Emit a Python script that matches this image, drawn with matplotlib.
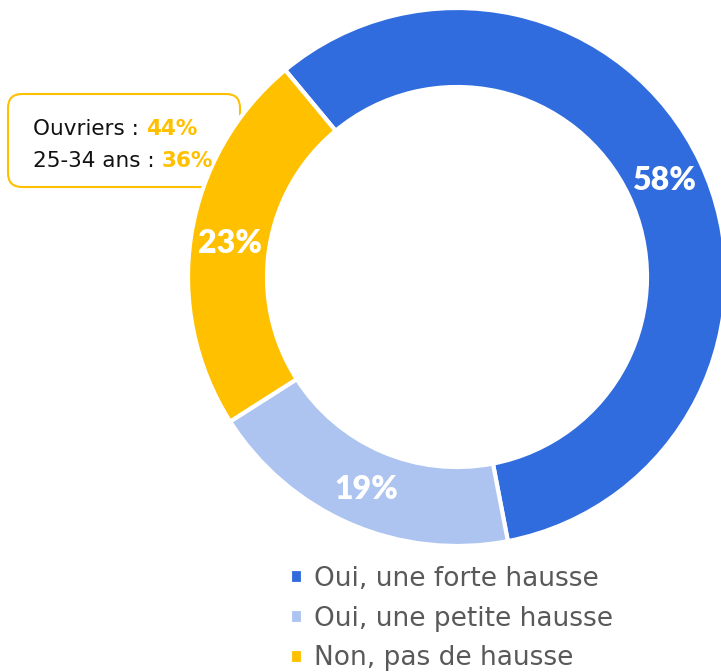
import numpy as np
import matplotlib.pyplot as plt
from matplotlib.patches import FancyBboxPatch

labels = ["Oui, une forte hausse", "Oui, une petite hausse", "Non, pas de hausse"]
values = [58, 19, 23]
colors = ["#306CDD", "#ADC4F1", "#FFC000"]
note_labels = ["Ouvriers : ", "25-34 ans : "]
note_values = ["44%", "36%"]

plt.rcParams['font.family'] = ['DejaVu Sans']

W, H = 721, 672
cx, cy = 457, H - 277
R, ring = 269, 79
start = 129.7

fig = plt.figure(figsize=(W / 100, H / 100), dpi=100)
ax = fig.add_axes([0, 0, 1, 1])

# encart derriere l'anneau
box = FancyBboxPatch((8, H - 187), 232, 93,
                     boxstyle="round,pad=0,rounding_size=14",
                     facecolor='white', edgecolor='#FFC000', linewidth=1.5, zorder=1)
ax.add_patch(box)

wedges, texts = ax.pie(values, colors=colors, startangle=start, counterclock=False,
                       center=(cx, cy), radius=R, frame=True,
                       wedgeprops=dict(width=ring, edgecolor='white', linewidth=3))
for w in wedges:
    w.set_zorder(2)

total = sum(values)
ang = start
for v in values:
    mid = np.deg2rad(ang - v / total * 360 / 2)
    ang -= v / total * 360
    r = R - ring / 2
    ax.text(cx + r * np.cos(mid), cy + r * np.sin(mid) - 2, f"{v}%",
            color='white', fontsize=23, fontweight='heavy', family='Lato',
            ha='center', va='center', zorder=3)

ax.set_xlim(0, W)
ax.set_ylim(0, H)
ax.set_aspect('equal')
ax.axis('off')

ys = [H - 135, H - 167]
for lab, val, y in zip(note_labels, note_values, ys):
    t = ax.text(33, y, lab, fontsize=15.5, color='#111111', va='baseline', zorder=3)
    ax.annotate(val, xy=(1, 0), xycoords=t, va='bottom', ha='left',
                fontsize=15.5, fontweight='bold', color='#FFC000', zorder=3)

leg = ax.legend(wedges, labels, loc='upper left', bbox_to_anchor=(290 / W, 1 - 566 / H),
                frameon=False, fontsize=19, labelcolor='#595959',
                handlelength=0.5, handleheight=0.5, handletextpad=0.42,
                labelspacing=0.52, borderaxespad=0, borderpad=0)

fig.savefig('out.png', dpi=100)
